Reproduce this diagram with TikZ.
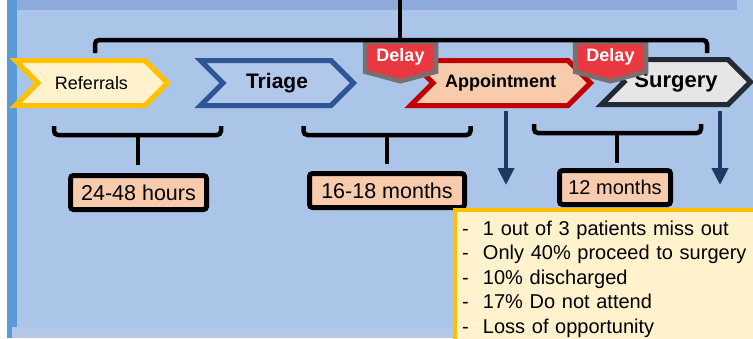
\documentclass[tikz,border=0pt]{standalone}
\usepackage{fontspec}
\setmainfont{Liberation Sans}
\usetikzlibrary{shapes.symbols,arrows.meta}
\definecolor{slidebg}{RGB}{170,197,232}
\definecolor{barblue}{RGB}{91,155,213}
\definecolor{topband}{RGB}{143,170,220}
\definecolor{lowband}{RGB}{180,199,231}
\definecolor{refline}{RGB}{255,192,0}
\definecolor{reffill}{RGB}{255,242,204}
\definecolor{triline}{RGB}{47,85,151}
\definecolor{trifill}{RGB}{178,200,234}
\definecolor{appline}{RGB}{192,0,0}
\definecolor{appfill}{RGB}{248,203,173}
\definecolor{surline}{RGB}{34,42,53}
\definecolor{surfill}{RGB}{231,230,230}
\definecolor{delayred}{RGB}{233,56,64}
\definecolor{delaygrey}{RGB}{118,113,113}
\definecolor{arrownavy}{RGB}{31,56,100}
\tikzset{
  stage/.style={shape=signal, signal to=east, signal from=west,
    signal pointer angle=90, line width=5pt, minimum height=45pt,
    inner sep=0pt},
  delaytag/.style={shape=signal, signal to=south, signal from=nowhere,
    signal pointer angle=150, fill=delayred, draw=delaygrey,
    line width=4.5pt, text=white, inner sep=0pt,
    font=\fontsize{18}{20}\selectfont\bfseries,
    minimum width=71pt, minimum height=36pt},
  timebox/.style={draw=black, fill=appfill, line width=5pt,
    rounded corners=3pt, minimum height=34pt, inner xsep=6pt,
    font=\fontsize{21.5}{24}\selectfont},
  brace/.style={line width=4.5pt, rounded corners=4pt},
  downarrow/.style={arrownavy, line width=4pt,
    -{Triangle[length=17pt,width=16pt]}},
}
\begin{document}
\begin{tikzpicture}[x=1pt,y=-1pt]
  \useasboundingbox (0,0) rectangle (753,338);
  % slide background
  \fill[white] (0,0) rectangle (753,338);
  \fill[slidebg] (17,0) rectangle (753,338);
  \fill[barblue] (7,0) rectangle (17,338);
  \fill[topband] (17,0) rectangle (737,10);
  \fill[lowband] (12,327) rectangle (453,338);

  % stages
  \node[stage, draw=refline, fill=reffill, minimum width=152pt,
    font=\fontsize{18}{20}\selectfont] (ref) at (91.5,83) {Referrals};
  \node[stage, draw=triline, fill=trifill, minimum width=153pt,
    font=\fontsize{21}{24}\selectfont\bfseries] (tri) at (277,83) {Triage};
  \node[stage, draw=appline, fill=appfill, minimum width=180pt,
    font=\fontsize{18}{20}\selectfont\bfseries] (app) at (500.5,83) {Appointment};
  \node[stage, draw=surline, fill=surfill, minimum width=149pt,
    font=\fontsize{22}{24}\selectfont\bfseries] (sur) at (676,82) {Surgery};

  % delay tags
  \node[delaytag] (delay1) at (400.5,57) {Delay};
  \node[delaytag] (delay2) at (610.5,57) {Delay};

  % top bracket
  \coordinate (top) at (400,0);
  \coordinate (topmid) at (400,40);
  \draw[brace] (95,53) -- (95,40) -- (707,40) -- (707,53);
  \draw[line width=4.5pt] (top) -- (topmid);

  % waiting times
  \node[timebox, minimum width=136pt] (t1) at (138.5,192.5) {24-48 hours};
  \node[timebox, minimum width=155pt] (t2) at (387,190.5) {16-18 months};
  \node[timebox, minimum width=111pt, font=\fontsize{20}{24}\selectfont]
    (t3) at (615,187.5) {12 months};

  % lower brackets
  \coordinate (b1) at (138,135);
  \coordinate (b2) at (387,135);
  \coordinate (b3) at (617,133);
  \draw[brace] (54,126) -- (54,135) -- (221,135) -- (221,126);
  \draw[brace] (303.5,126) -- (303.5,135) -- (470.5,135) -- (470.5,126);
  \draw[brace] (534,124) -- (534,133) -- (701,133) -- (701,124);
  \draw[line width=4.5pt, shorten >=8pt] (b1) -- (t1.north -| b1);
  \draw[line width=4.5pt, shorten >=7pt] (b2) -- (t2.north -| b2);
  \draw[line width=4.5pt, shorten >=5pt] (b3) -- (t3.north -| b3);

  % arrows
  \coordinate (a1) at (506,185);
  \coordinate (a2) at (720,185);
  \draw[downarrow] (app.south -| a1) ++(0,3) -- (a1);
  \draw[downarrow] (sur.south -| a2) ++(0,4) -- (a2);

  % notes
  \node[draw=refline, fill=reffill, line width=4pt, anchor=north west,
    text width=300pt, inner xsep=7pt, inner ysep=11pt, align=left,
    font=\fontsize{20}{24.5}\selectfont] (notes) at (453,208)
    {\makebox[21pt][l]{-}1 out of 3 patients miss out\\
     \makebox[21pt][l]{-}Only 40\% proceed to surgery\\
     \makebox[21pt][l]{-}10\% discharged\\
     \makebox[21pt][l]{-}17\% Do not attend\\
     \makebox[21pt][l]{-}Loss of opportunity};
\end{tikzpicture}
\end{document}
